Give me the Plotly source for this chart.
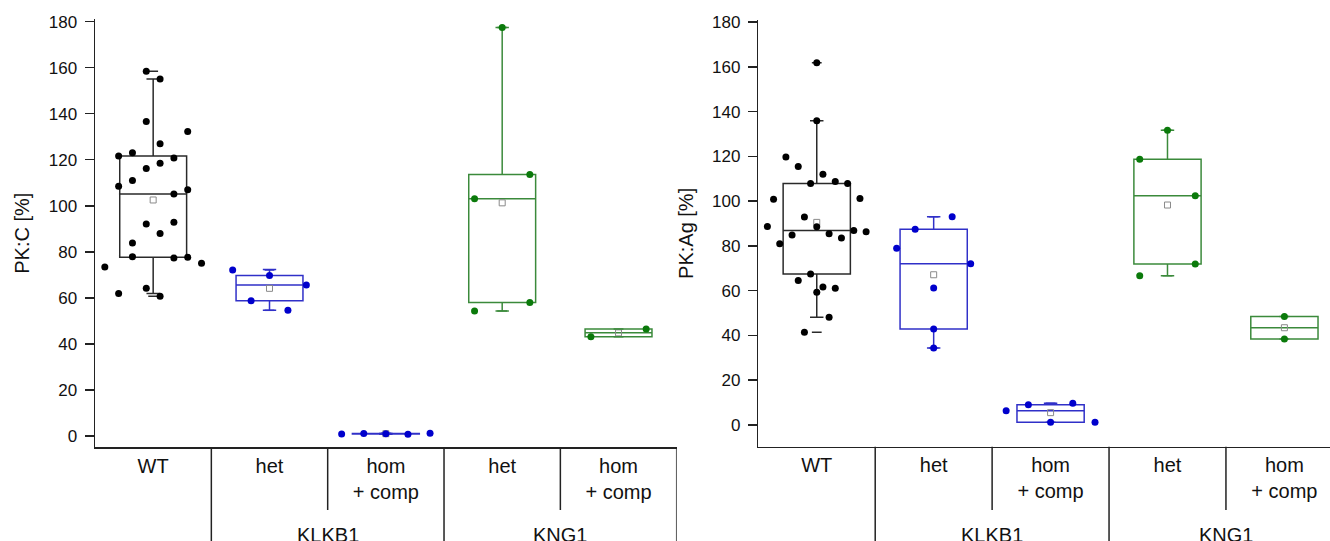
import numpy as np
import plotly.graph_objects as go
from collections import defaultdict

# ---------------- data ----------------
CATEGORIES = ["WT", "het", "hom<br>+ comp", "het", "hom<br>+ comp"]
GROUP_NAMES = ["KLKB1", "KNG1"]
Y_TICKS = list(range(0, 181, 20))

# Panel 1: PK:C [%]
pkc_wt = [158.4, 155.1, 121.6, 123.0, 136.6, 126.9, 120.7, 132.3,
          108.5, 111.0, 116.2, 118.5, 105.1, 107.0,
          83.8, 92.1, 88.0, 92.8,
          73.4, 61.9, 77.9, 64.2, 60.7, 77.3, 77.6, 75.0]
pkc_klkb1_het = [72.1, 69.7, 65.6, 58.7, 54.6]
pkc_klkb1_hom = [0.9, 1.1, 1.0, 0.8, 1.2]
pkc_kng1_het = [177.4, 103.1, 113.6, 54.3, 58.0]
pkc_kng1_hom = [43.1, 46.5]
pkc_q1 = [77.6, 58.7, 0.9, 58.0, 43.1]
pkc_median = [105.1, 65.6, 1.0, 103.1, 44.8]
pkc_q3 = [121.6, 69.7, 1.1, 113.6, 46.5]
pkc_whisker_lo = [61.9, 54.6, 0.8, 54.3, 43.1]
pkc_whisker_hi = [155.1, 72.3, 1.2, 177.4, 46.5]

# Panel 2: PK:Ag [%]
pkag_wt = [161.8, 135.9,
           100.8, 119.7, 115.5, 107.9, 112.0, 108.8, 107.9, 101.2,
           88.7, 81.0, 84.9, 92.9, 88.6, 85.4, 83.5, 86.9, 86.3,
           64.5, 67.4, 61.6, 61.1,
           41.4, 59.3, 48.1]
pkag_klkb1_het = [87.4, 93.0, 78.9, 61.2, 72.0, 42.9, 34.4]
pkag_klkb1_hom = [6.4, 9.1, 1.2, 9.7, 1.2]
pkag_kng1_het = [131.6, 118.7, 102.4, 66.7, 71.9]
pkag_kng1_hom = [48.5, 38.4]
pkag_q1 = [67.4, 42.9, 1.2, 71.9, 38.4]
pkag_median = [86.9, 72.0, 6.4, 102.4, 43.45]
pkag_q3 = [107.9, 87.4, 9.1, 118.7, 48.5]
pkag_whisker_lo = [48.1, 34.4, 1.2, 66.7, 38.4]
pkag_whisker_hi = [135.9, 93.0, 9.7, 131.6, 48.5]

# ---------------- style ----------------
FONT = "Liberation Sans, Arial, Helvetica, sans-serif"
POINT_COLORS = ["#000000", "#0000cc", "#0000cc", "#0b7a0b", "#0b7a0b"]
LINE_COLORS = ["#2a2a2a", "#3030c8", "#3030c8", "#3b8a3b", "#3b8a3b"]
AXIS_COLOR = "#222222"
W, H = 1330, 541
BIN_WIDTH = 20.0
SPREAD = 0.95
BOX_WIDTH = 0.575


def bin_offsets(vals):
    """Origin-like 'bin' scatter layout: points sharing a value bin are
    spread horizontally around the category centre, in data order."""
    bins = np.floor(np.asarray(vals, dtype=float) / BIN_WIDTH)
    counts = defaultdict(int)
    for b in bins:
        counts[b] += 1
    m = max(counts.values())
    step = SPREAD / m
    seen = defaultdict(int)
    offs = []
    for b in bins:
        k = counts[b]
        j = seen[b]
        seen[b] += 1
        offs.append((j - (k - 1) / 2.0) * step)
    return np.array(offs)


def py(px):
    return (H - px) / H


panels = [
    dict(groups=[pkc_wt, pkc_klkb1_het, pkc_klkb1_hom, pkc_kng1_het, pkc_kng1_hom],
         q1=pkc_q1, med=pkc_median, q3=pkc_q3, lo=pkc_whisker_lo, hi=pkc_whisker_hi,
         title="PK:C [%]", xdom=[95 / W, 676.7 / W], ydom=[py(447), py(19.3)],
         yrange=[-4.78, 181.0], xrange=[-0.5, 4.5], xa="x", ya="y"),
    dict(groups=[pkag_wt, pkag_klkb1_het, pkag_klkb1_hom, pkag_kng1_het, pkag_kng1_hom],
         q1=pkag_q1, med=pkag_median, q3=pkag_q3, lo=pkag_whisker_lo, hi=pkag_whisker_hi,
         title="PK:Ag [%]", xdom=[758.3 / W, 1.0], ydom=[py(446.7), py(20)],
         yrange=[-9.69, 180.9], xrange=[-0.5, 4.39], xa="x2", ya="y2"),
]

fig = go.Figure()
shapes = []
annotations = []

for p in panels:
    for i, vals in enumerate(p["groups"]):
        fig.add_trace(go.Box(
            x=[i], q1=[p["q1"][i]], median=[p["med"][i]], q3=[p["q3"][i]],
            lowerfence=[p["lo"][i]], upperfence=[p["hi"][i]],
            width=BOX_WIDTH, whiskerwidth=0.2, boxpoints=False,
            line=dict(color=LINE_COLORS[i], width=1.5),
            fillcolor="rgba(0,0,0,0)", xaxis=p["xa"], yaxis=p["ya"],
            showlegend=False, hoverinfo="skip"))
        arr = np.asarray(vals, dtype=float)
        # mean
        fig.add_trace(go.Scatter(
            x=[i], y=[arr.mean()], mode="markers",
            marker=dict(symbol="square-open", size=6, color="#8a8a8a",
                        line=dict(width=1, color="#8a8a8a")),
            xaxis=p["xa"], yaxis=p["ya"], showlegend=False, hoverinfo="skip"))
        # min / max dashes
        fig.add_trace(go.Scatter(
            x=[i, i], y=[arr.min(), arr.max()], mode="markers",
            marker=dict(symbol="line-ew", size=7,
                        line=dict(width=1.5, color=LINE_COLORS[i])),
            xaxis=p["xa"], yaxis=p["ya"], showlegend=False, hoverinfo="skip"))
        # data points
        fig.add_trace(go.Scatter(
            x=i + bin_offsets(arr), y=arr, mode="markers",
            marker=dict(size=7, color=POINT_COLORS[i]),
            xaxis=p["xa"], yaxis=p["ya"], showlegend=False, hoverinfo="skip"))

    # category table lines below axis
    y_axis_bottom = p["ydom"][0]
    for b in [0.5, 1.5, 2.5, 3.5, 4.5]:
        full = b in (0.5, 2.5, 4.5)
        if b > p["xrange"][1]:
            continue
        shapes.append(dict(type="line", xref=p["xa"], yref="paper",
                           x0=b, x1=b, y0=y_axis_bottom,
                           y1=0 if full else py(510),
                           line=dict(color=AXIS_COLOR, width=1.5)))
    for gi, name in enumerate(GROUP_NAMES):
        annotations.append(dict(text=name, xref=p["xa"], yref="paper",
                                x=1.5 + 2 * gi, y=py(535), yanchor="middle",
                                showarrow=False,
                                font=dict(family=FONT, size=20, color="#111")))

axis_common = dict(showgrid=False, zeroline=False, showline=True,
                   linecolor=AXIS_COLOR, linewidth=1.5, automargin=False)

layout = dict(template="none", width=W, height=H,
              margin=dict(l=0, r=0, t=0, b=0, pad=0), autosize=False,
              paper_bgcolor="white", plot_bgcolor="white",
              font=dict(family=FONT, color="#111"),
              shapes=shapes, annotations=annotations, showlegend=False)

for k, p in enumerate(panels):
    sx = "" if k == 0 else "2"
    layout["xaxis" + sx] = dict(
        axis_common, domain=p["xdom"], range=p["xrange"], anchor="y" + sx,
        tickmode="array", tickvals=list(range(len(CATEGORIES))),
        ticktext=CATEGORIES, ticks="", tickfont=dict(family=FONT, size=20, color="#111"))
    layout["yaxis" + sx] = dict(
        axis_common, domain=p["ydom"], range=p["yrange"], anchor="x" + sx,
        tickmode="array", tickvals=Y_TICKS, ticks="outside", ticklen=9,
        tickwidth=1.5, tickcolor=AXIS_COLOR, ticklabelstandoff=4,
        tickfont=dict(family=FONT, size=17, color="#111"),
        title=dict(text=p["title"], font=dict(family=FONT, size=20, color="#111"),
                   standoff=13))

fig.update_layout(**layout)
fig.write_html("out.html",
               config={"displayModeBar": False, "staticPlot": True},
               post_script="document.body.style.margin='0';"
                           "document.body.style.overflow='hidden';")
